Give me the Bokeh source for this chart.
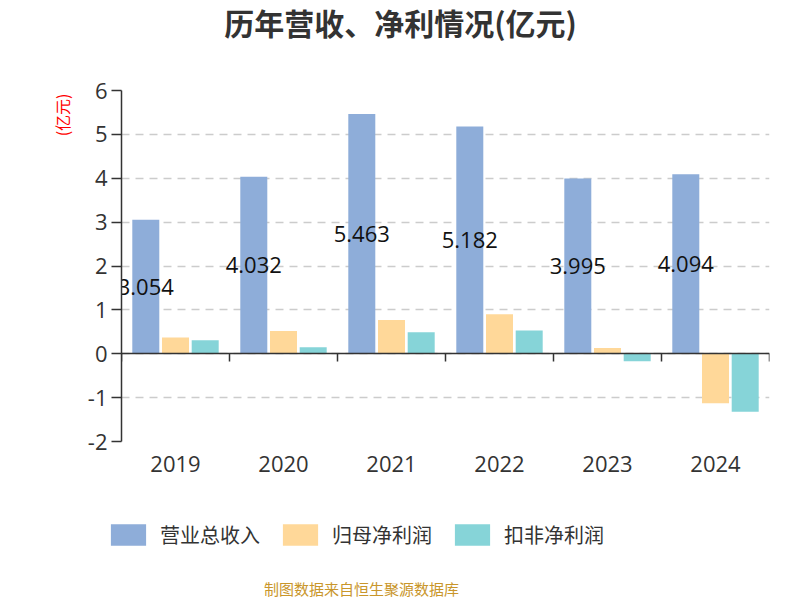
import numpy as np
from bokeh.plotting import figure
from bokeh.layouts import column
from bokeh.models import (FixedTicker, LinearAxis, Legend, LegendItem, Range1d, ColumnDataSource,
                          Grid, Title, Label)
from bokeh.core.properties import value
from bokeh.embed import file_html
from bokeh.resources import INLINE

years = ["2019", "2020", "2021", "2022", "2023", "2024"]
revenue = [3.054, 4.032, 5.463, 5.182, 3.995, 4.094]
net_profit = [0.37, 0.52, 0.77, 0.90, 0.13, -1.13]
deducted_profit = [0.31, 0.15, 0.49, 0.53, -0.17, -1.32]
series_names = ["营业总收入", "归母净利润", "扣非净利润"]
colors = ["#8EADD9", "#FFD899", "#86D4D8"]
y_ticks = [-2, -1, 0, 1, 2, 3, 4, 5, 6]
y_tick_labels = ["-2", "-1", "0", "1", "2", "3", "4", "5", "6"]

CJK = "Noto Sans CJK SC"
NUM = "Open Sans"
W = 800
H_TOP, H_MAIN, H_BOT = 70, 440, 90


def blank(h):
    f = figure(width=W, height=h, output_backend="svg", toolbar_location=None,
               x_range=Range1d(0, W), y_range=Range1d(0, h),
               min_border=0, min_border_left=0, min_border_right=0,
               min_border_top=0, min_border_bottom=0,
               x_axis_type=None, y_axis_type=None, frame_align=False)
    f.outline_line_color = None
    f.xgrid.visible = False
    f.ygrid.visible = False
    return f


# ---- header (title)
top = blank(H_TOP)
top.add_layout(Label(x=400, y=H_TOP - 21, x_units="data", y_units="data",
                     text="历年营收、净利情况(亿元)", text_align="center", text_baseline="middle",
                     text_font=CJK, text_font_size="30px", text_font_style="bold",
                     text_color="#333333"))

# ---- main chart
p = figure(width=W, height=H_MAIN, output_backend="svg", toolbar_location=None,
           x_range=Range1d(0, len(years)), y_range=Range1d(-2, 6),
           min_border_left=121, min_border_right=31, min_border_top=20,
           min_border_bottom=H_MAIN - (441 - H_TOP),
           x_axis_type=None, y_axis_type=None, frame_align=False)
p.outline_line_color = None
p.background_fill_color = "white"
p.border_fill_color = "white"

grid = Grid(dimension=1, ticker=FixedTicker(ticks=y_ticks))
grid.grid_line_color = "#CCCCCC"
grid.grid_line_width = 1.5
grid.grid_line_dash = "8 6"
p.add_layout(grid)

idx = np.arange(len(years))
centers = idx + 0.5
offsets = [-0.275, 0.0, 0.275]
bw = 0.25

for vals, off, col in zip([revenue, net_profit, deducted_profit], offsets, colors):
    src = ColumnDataSource(dict(x=centers + off, top=vals))
    p.vbar(x="x", top="top", bottom=0, width=bw, source=src, fill_color=col, line_color=None)

lab_src = ColumnDataSource(dict(x=centers + offsets[0], y=np.array(revenue) / 2.0,
                                t=[f"{v:.3f}" for v in revenue]))
p.text(x="x", y="y", text="t", source=lab_src, text_align="center", text_baseline="middle",
       text_font=value(NUM), text_font_size="22px", text_color="#111111")

yaxis = LinearAxis(ticker=FixedTicker(ticks=y_ticks))
yaxis.major_label_overrides = {t: s for t, s in zip(y_ticks, y_tick_labels)}
yaxis.axis_line_color = "#333333"
yaxis.axis_line_width = 1.5
yaxis.major_tick_line_color = "#333333"
yaxis.major_tick_line_width = 1.5
yaxis.major_tick_out = 10
yaxis.major_tick_in = 0
yaxis.minor_tick_line_color = None
yaxis.major_label_text_font = NUM
yaxis.major_label_text_font_size = "22px"
yaxis.major_label_text_color = "#333333"
yaxis.major_label_standoff = 4
p.add_layout(yaxis, "left")

p.add_layout(Title(text="(亿元)", align="right", text_font=CJK, text_font_size="16px",
                   text_font_style="normal", text_color="#FF0000", standoff=22, offset=3), "left")

xaxis = LinearAxis(ticker=FixedTicker(ticks=list(centers)))
xaxis.major_label_overrides = {float(c): y for c, y in zip(centers, years)}
xaxis.axis_line_color = None
xaxis.major_tick_line_color = None
xaxis.minor_tick_line_color = None
xaxis.major_tick_out = 0
xaxis.major_label_standoff = 14
xaxis.major_label_text_font = NUM
xaxis.major_label_text_font_size = "22px"
xaxis.major_label_text_color = "#333333"
p.add_layout(xaxis, "below")

zaxis = LinearAxis(ticker=FixedTicker(ticks=list(range(len(years) + 1))), fixed_location=0)
zaxis.axis_line_color = "#333333"
zaxis.axis_line_width = 1.5
zaxis.major_tick_line_color = "#333333"
zaxis.major_tick_line_width = 1.5
zaxis.major_tick_out = 8
zaxis.major_tick_in = 0
zaxis.minor_tick_line_color = None
zaxis.major_label_text_alpha = 0
zaxis.major_label_text_font_size = "1px"
zaxis.major_label_standoff = 0
p.add_layout(zaxis, "below")

# ---- bottom (legend + source note)
bot = blank(H_BOT)
leg_r = []
for col in colors:
    # legend swatches only: placed outside the visible range
    leg_r.append(bot.vbar(x=[-100], top=[-100], bottom=[-100], width=1,
                          fill_color=col, line_color=None))
legend = Legend(items=[LegendItem(label=n, renderers=[r]) for n, r in zip(series_names, leg_r)],
                orientation="horizontal", location=(106, 600 - 549))
legend.glyph_width = 44
legend.glyph_height = 27
legend.label_height = 27
legend.label_standoff = 10
legend.spacing = 18
legend.padding = 0
legend.margin = 0
legend.border_line_color = None
legend.background_fill_alpha = 0
legend.label_text_font = CJK
legend.label_text_font_size = "20px"
legend.label_text_color = "#333333"
bot.add_layout(legend, "center")

bot.add_layout(Label(x=361, y=600 - 588, x_units="data", y_units="data",
                     text="制图数据来自恒生聚源数据库", text_align="center", text_baseline="middle",
                     text_font=CJK, text_font_size="15px", text_color="#C9962B"))

layout = column(top, p, bot, spacing=0)
open("out.html", "w").write(file_html(layout, INLINE))
